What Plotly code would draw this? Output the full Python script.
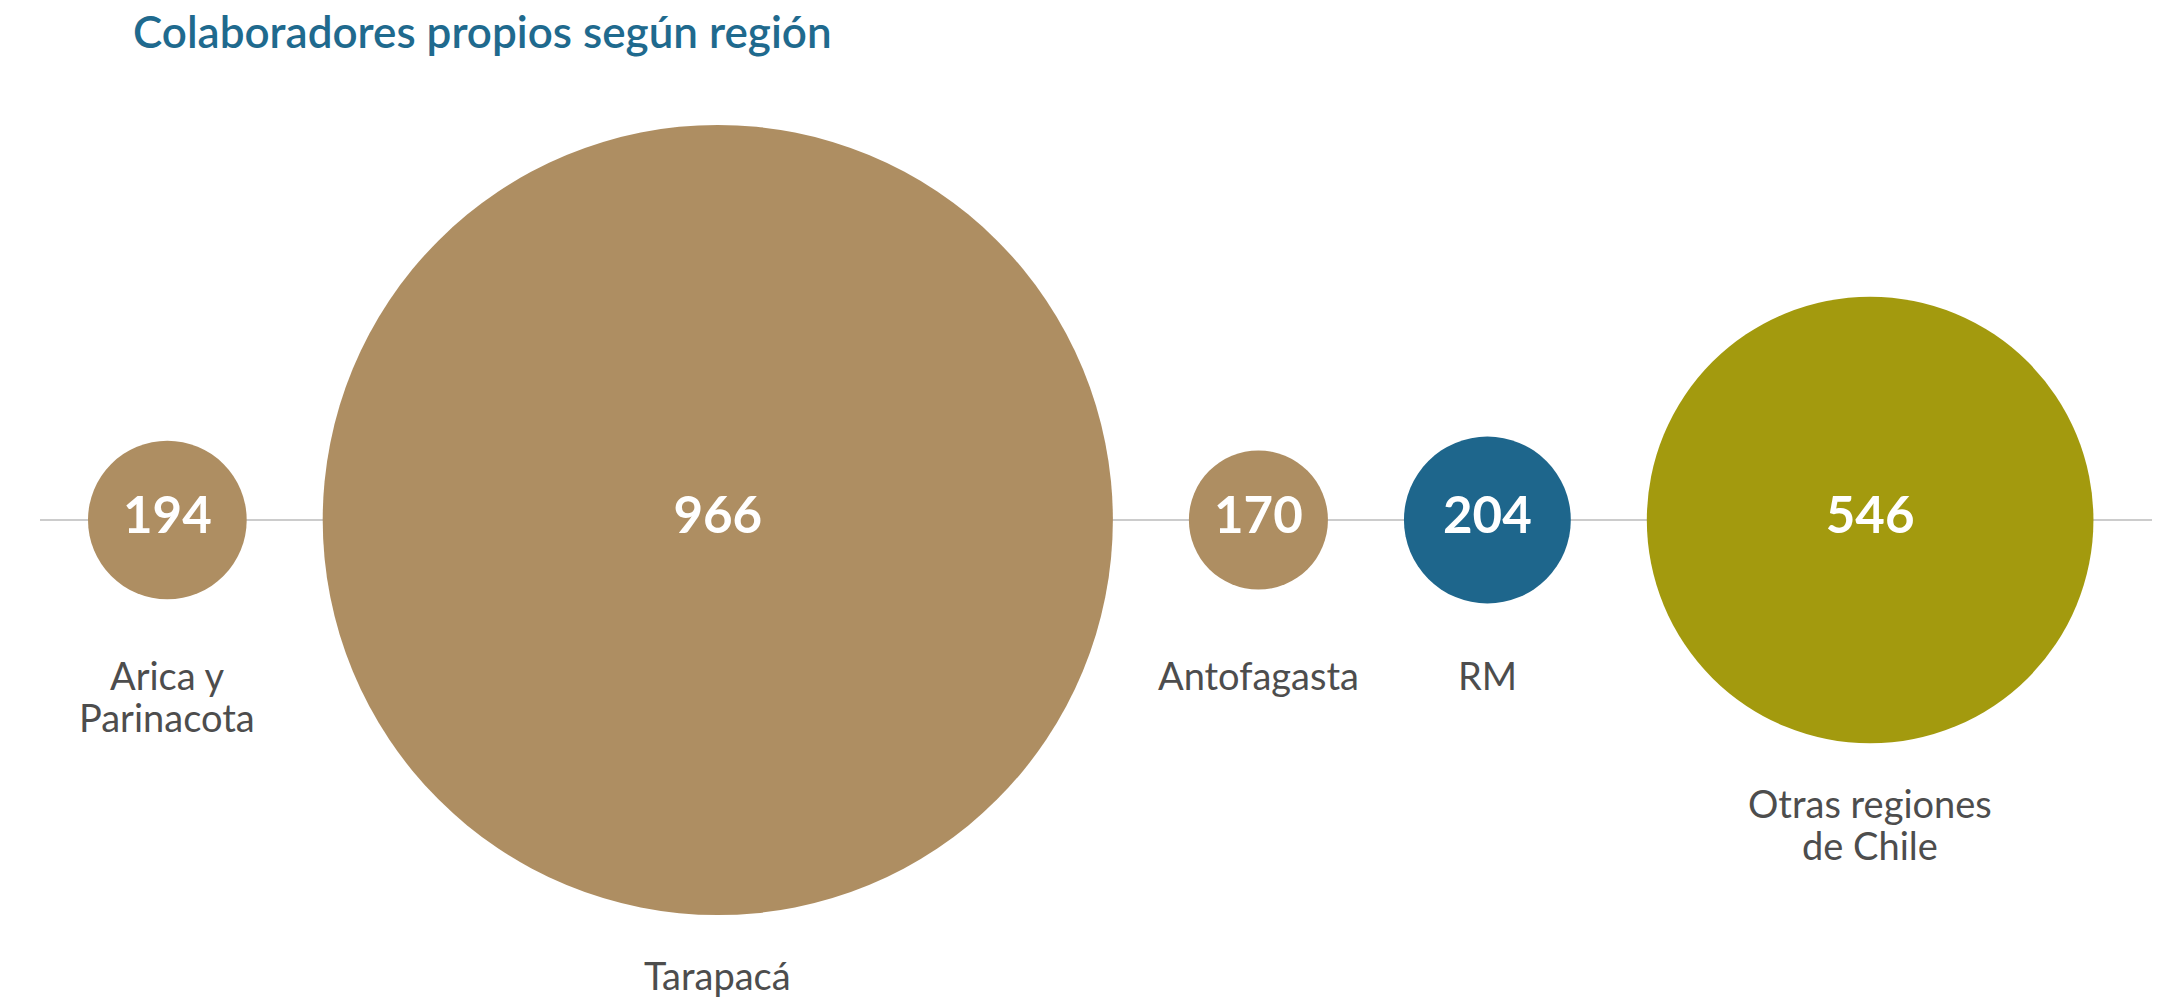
import plotly.graph_objects as go

# ---- data ----
regions = ["Arica y<br>Parinacota", "Tarapacá", "Antofagasta", "RM", "Otras regiones<br>de Chile"]
values = [194, 966, 170, 204, 546]
colors = ["#AE8E62", "#AE8E62", "#AE8E62", "#1E668C", "#A39A0E"]
title_text = "Colaboradores propios según región"

# ---- layout constants (pixels) ----
W, H = 2173, 998
PX_PER_UNIT = 0.818      # circle diameter per unit of value
GAP = 76                 # gap between circles
START_X = 88             # left edge of first circle
CENTER_Y = 520
LABEL_MIN_Y = 675
LABEL_OFFSET = 60
LINE_SPACING = 42

diam = [v * PX_PER_UNIT for v in values]
cx = []
edge = START_X
for d in diam:
    cx.append(edge + d / 2)
    edge += d + GAP
cy = [CENTER_Y] * len(values)

fig = go.Figure()

# circles with value text
fig.add_trace(go.Scatter(
    x=cx, y=cy, mode="markers+text",
    marker=dict(size=diam, sizemode="diameter", color=colors, line=dict(width=0), opacity=1),
    text=[str(v) for v in values], textposition="middle center",
    textfont=dict(family="Lato", size=51, color="white", weight="bold"),
    hoverinfo="skip", showlegend=False, cliponaxis=False,
))

# category labels below circles
for x, d, lab in zip(cx, diam, regions):
    y0 = max(LABEL_MIN_Y, CENTER_Y + d / 2 + LABEL_OFFSET)
    for i, line in enumerate(lab.split("<br>")):
        fig.add_annotation(x=x, y=y0 + i * LINE_SPACING, text=line, showarrow=False,
                           xanchor="center", yanchor="middle",
                           font=dict(family="Lato", size=38, color="#4D4D4D"))

# horizontal baseline
fig.add_shape(type="line", x0=40, x1=2152, y0=CENTER_Y, y1=CENTER_Y,
              line=dict(color="#CCCCCC", width=2), layer="below")

fig.add_annotation(x=131, y=31, text=title_text, showarrow=False, xanchor="left", yanchor="middle",
                   font=dict(family="Lato", size=44, color="#1F6A8E", weight=600))

fig.update_layout(
    width=W, height=H, margin=dict(l=0, r=0, t=0, b=0),
    paper_bgcolor="white", plot_bgcolor="white",
    xaxis=dict(range=[0, W], visible=False, fixedrange=True),
    yaxis=dict(range=[H, 0], visible=False, fixedrange=True),
    showlegend=False,
)

fig.write_html(
    "out.html",
    config={"displayModeBar": False},
    post_script="document.body.style.margin='0';document.body.style.overflow='hidden';",
)
